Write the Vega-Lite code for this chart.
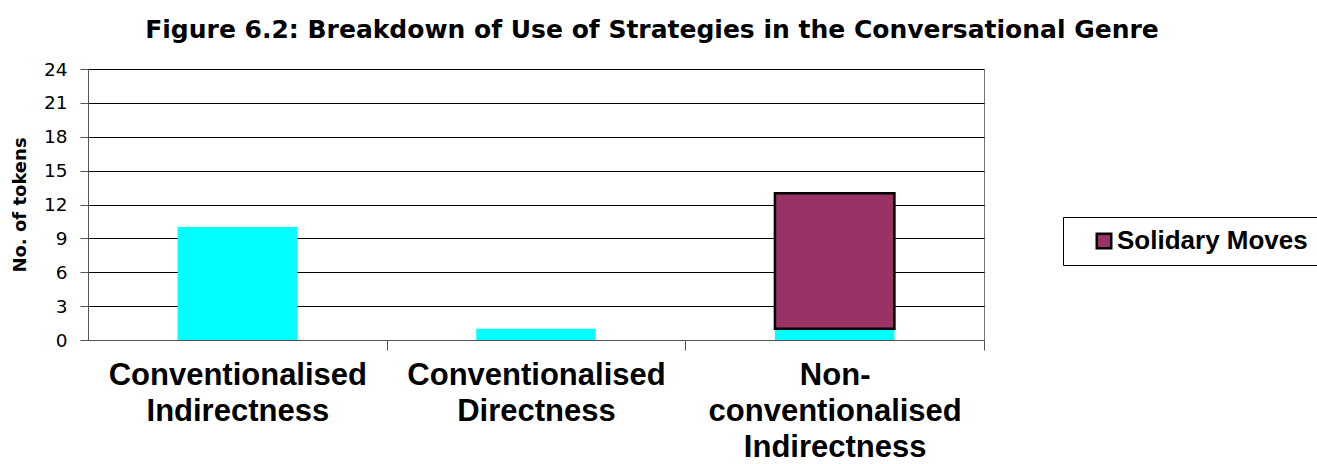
{
  "$schema": "https://vega.github.io/schema/vega-lite/v6.json",
  "autosize": "none",
  "width": 896,
  "height": 271,
  "padding": {"left": 88, "top": 69, "right": 333, "bottom": 124},
  "background": "white",
  "config": {
    "font": "Liberation Sans",
    "view": {"stroke": "#777", "strokeWidth": 1}
  },
  "title": {
    "text": "Figure 6.2: Breakdown of Use of Strategies in the Conversational Genre",
    "font": "DejaVu Sans",
    "fontSize": 25,
    "fontWeight": "bold",
    "color": "#000",
    "anchor": "middle",
    "dx": 116,
    "offset": 17
  },
  "data": {
    "values": [
      {"category": "Conventionalised|Indirectness", "series": "Base", "order": 1, "value": 10},
      {"category": "Conventionalised|Directness", "series": "Base", "order": 1, "value": 1},
      {"category": "Non-|conventionalised|Indirectness", "series": "Base", "order": 1, "value": 1},
      {"category": "Non-|conventionalised|Indirectness", "series": "Solidary Moves", "order": 2, "value": 12}
    ]
  },
  "mark": {"type": "bar"},
  "encoding": {
    "x": {
      "field": "category",
      "type": "nominal",
      "sort": null,
      "scale": {"paddingInner": 0.6, "paddingOuter": 0.3},
      "axis": {
        "title": null,
        "labelAngle": 0,
        "labelExpr": "split(datum.label, '|')",
        "labelFont": "Liberation Sans",
        "labelFontSize": 31,
        "labelFontWeight": "bold",
        "labelColor": "#000",
        "labelLineHeight": 36,
        "labelPadding": 10,
        "labelBaseline": "top",
        "bandPosition": 1,
        "tickOffset": 89.6,
        "labelOffset": -89.6,
        "tickSize": 10,
        "tickColor": "#555",
        "domainColor": "#555",
        "labelLimit": 400
      }
    },
    "y": {
      "field": "value",
      "type": "quantitative",
      "stack": "zero",
      "scale": {"domain": [0, 24], "nice": false},
      "axis": {
        "title": "No. of tokens",
        "titleFont": "DejaVu Sans",
        "titleFontSize": 18,
        "titleFontWeight": "bold",
        "titleColor": "#000",
        "titlePadding": 14,
        "values": [0, 3, 6, 9, 12, 15, 18, 21, 24],
        "labelFont": "DejaVu Sans",
        "labelFontSize": 18.5,
        "labelColor": "#000",
        "labelPadding": 13,
        "tickSize": 8,
        "tickColor": "#555",
        "domainColor": "#555",
        "grid": true,
        "gridColor": "#000",
        "gridWidth": 1
      }
    },
    "color": {
      "field": "series",
      "type": "nominal",
      "scale": {"domain": ["Base", "Solidary Moves"], "range": ["#00FFFF", "#993366"]},
      "legend": {
        "title": null,
        "values": ["Solidary Moves"],
        "orient": "none",
        "legendX": 975,
        "legendY": 148,
        "symbolType": "square",
        "symbolSize": 210,
        "symbolStrokeColor": "#000",
        "symbolStrokeWidth": 1.5,
        "labelFont": "Liberation Sans",
        "labelFontSize": 26,
        "labelFontWeight": "bold",
        "labelColor": "#000",
        "labelLimit": 300,
        "labelOffset": 0,
        "padding": 11,
        "symbolOffset": 17,
        "strokeColor": "#000",
        "fillColor": "white"
      }
    },
    "stroke": {
      "field": "series",
      "type": "nominal",
      "scale": {"domain": ["Base", "Solidary Moves"], "range": ["#00FFFF", "#000000"]},
      "legend": null
    },
    "strokeWidth": {
      "field": "series",
      "type": "nominal",
      "scale": {"domain": ["Base", "Solidary Moves"], "range": [0, 2.5]},
      "legend": null
    },
    "order": {"field": "order", "type": "quantitative"}
  }
}
